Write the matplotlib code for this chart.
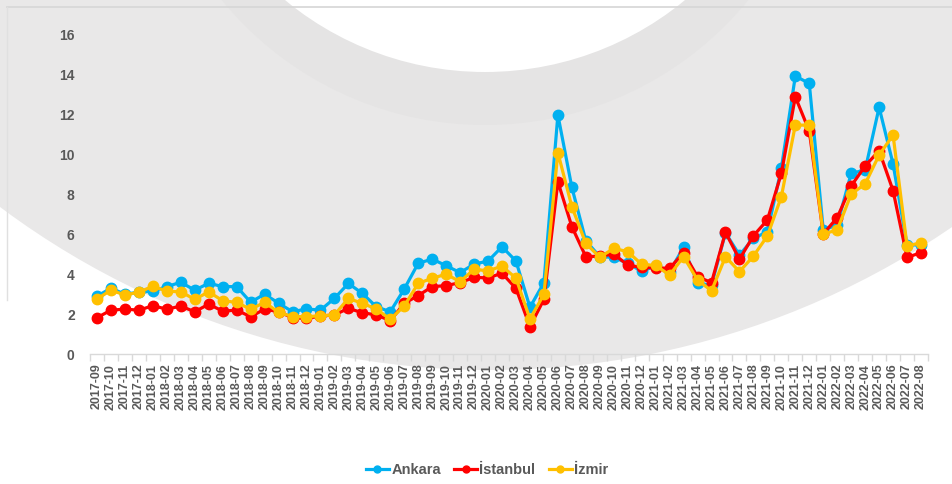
import matplotlib
matplotlib.use("Agg")
import matplotlib.pyplot as plt
from matplotlib.patches import Circle
from matplotlib.lines import Line2D

months = [f"{y}-{m:02d}" for y in range(2017, 2023) for m in range(1, 13)]
months = months[months.index("2017-09"):months.index("2022-08") + 1]

ankara = [2.9, 3.3, 3.0, 3.1, 3.15, 3.38, 3.6, 3.2, 3.55, 3.38, 3.38, 2.6, 3.0, 2.55, 2.12,
          2.26, 2.2, 2.79, 3.54, 3.04, 2.37, 2.12, 3.26, 4.55, 4.76, 4.43, 4.08, 4.51, 4.66, 5.38,
          4.66, 2.34, 3.58, 11.99, 8.36, 5.68, 4.88, 4.85, 4.55, 4.15, 4.42, 4.13, 5.35, 3.54, 3.46,
          6.08, 4.96, 5.8, 6.13, 9.31, 13.94, 13.57, 6.22, 6.47, 9.06, 9.23, 12.37, 9.53, 5.47, 5.47]
istanbul = [1.82, 2.2, 2.25, 2.2, 2.42, 2.25, 2.4, 2.12, 2.5, 2.15, 2.2, 1.87, 2.25, 2.12, 1.82,
            1.79, 1.9, 1.96, 2.29, 2.07, 1.96, 1.67, 2.54, 2.93, 3.38, 3.43, 3.58, 3.84, 3.82, 4.05,
            3.29, 1.37, 2.74, 8.64, 6.39, 4.88, 4.91, 5.01, 4.46, 4.34, 4.32, 4.3, 5.08, 3.88, 3.58,
            6.1, 4.75, 5.93, 6.72, 9.06, 12.9, 11.18, 6.02, 6.84, 8.43, 9.43, 10.2, 8.19, 4.85, 5.08]
izmir = [2.76, 3.2, 2.96, 3.1, 3.4, 3.15, 3.12, 2.74, 3.12, 2.67, 2.59, 2.24, 2.59, 2.09, 1.88,
         1.87, 1.92, 1.96, 2.79, 2.54, 2.26, 1.74, 2.41, 3.54, 3.8, 4.0, 3.63, 4.25, 4.17, 4.41,
         3.8, 1.76, 2.99, 10.1, 7.39, 5.55, 4.85, 5.3, 5.13, 4.5, 4.44, 3.96, 4.88, 3.71, 3.17,
         4.88, 4.13, 4.91, 5.92, 7.89, 11.48, 11.48, 6.02, 6.22, 8.02, 8.53, 9.98, 10.98, 5.42, 5.58]

series_names = ["Ankara", "İstanbul", "İzmir"]
series_values = [ankara, istanbul, izmir]
colors = ["#00B0F0", "#FF0000", "#FFC000"]
yticks = [0, 2, 4, 6, 8, 10, 12, 14, 16]

W, H = 952, 484
fig = plt.figure(figsize=(W / 100, H / 100), dpi=100)
fig.patch.set_facecolor("white")

# background decoration (pixel coordinates)
bg = fig.add_axes([0, 0, 1, 1], zorder=0)
bg.set_xlim(0, W)
bg.set_ylim(H, 0)
bg.axis("off")
bg.add_patch(Circle((490, -448), 818, color="#e9e8e8", lw=0))
bg.add_patch(Circle((485, -215), 340, color="#e5e4e4", lw=0))
bg.add_patch(Circle((485, -242), 314, color="#ffffff", lw=0))
bg.plot([7, W], [6.5, 6.5], color="#d6d6d6", lw=1.2)
bg.plot([7, 7], [6.5, 300], color="#e0e0e0", lw=1.0)

ax = fig.add_axes([90 / W, 1 - 354 / H, (928 - 90) / W, (354 - 35) / H], zorder=1)
ax.patch.set_alpha(0)
x = list(range(len(months)))
for name, vals, c in zip(series_names, series_values, colors):
    ax.plot(x, vals, color=c, lw=2.3, marker="o", markersize=7.5, label=name,
            solid_joinstyle="round")

ax.set_xlim(-0.5, len(months) - 0.5)
ax.set_ylim(0, 16)
ax.set_yticks(yticks)
ax.set_yticklabels([str(v) for v in yticks], fontsize=10, fontweight="bold",
                   color="#595959", family="Liberation Sans")
ax.tick_params(axis="y", length=0, pad=11)
ax.set_xticks(x)
ax.set_xticklabels(months, rotation=90, fontsize=9, fontweight="bold",
                   color="#595959", family="Liberation Sans")
ax.set_xticks([i + 0.5 for i in range(-1, len(months))], minor=True)
ax.tick_params(axis="x", which="major", length=0, pad=7)
ax.tick_params(axis="x", which="minor", length=5, color="#d9d9d9", width=1)
for s in ["left", "right", "top"]:
    ax.spines[s].set_visible(False)
ax.spines["bottom"].set_color("#d9d9d9")
ax.spines["bottom"].set_linewidth(1)

handles = [Line2D([0], [0], color=c, lw=2.3, marker="o", markersize=5) for c in colors]
leg = fig.legend(handles, series_names, loc="center", bbox_to_anchor=(487 / W, 1 - 470 / H),
                 ncol=3, frameon=False, handlelength=1.6, handletextpad=0.15, columnspacing=0.9,
                 prop={"family": "Liberation Sans", "weight": "bold", "size": 10.5})
for t in leg.get_texts():
    t.set_color("#595959")

fig.savefig("out.png", dpi=100)
